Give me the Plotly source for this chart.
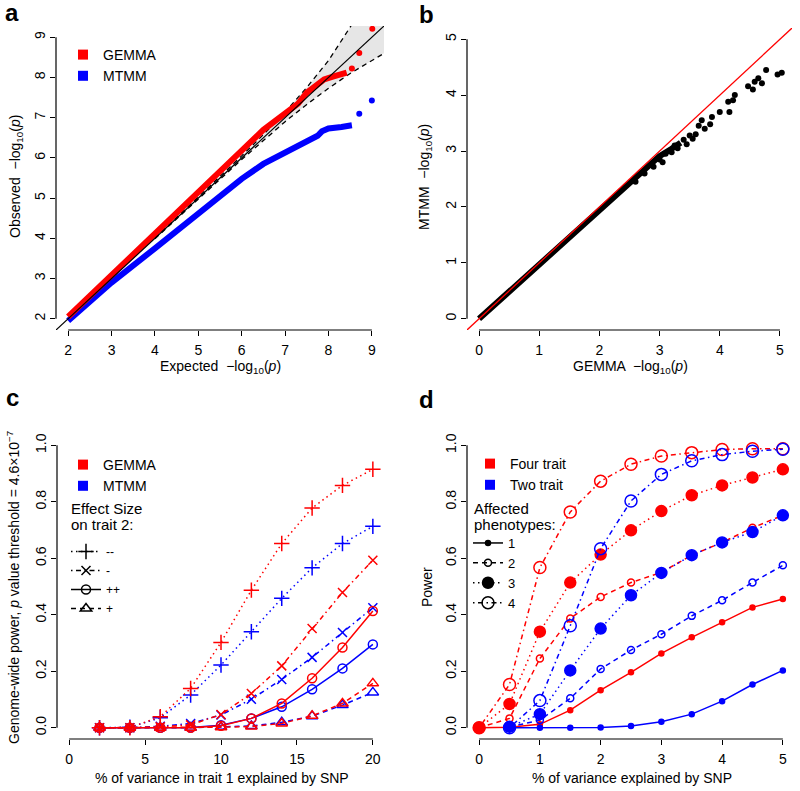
import plotly.graph_objects as go

W, H = 800, 791
FONT = "Liberation Sans, Arial, Helvetica, sans-serif"
RED = "#ff0000"
BLUE = "#0000ff"
BLACK = "#000000"

# ---------------- Panel a: QQ plot ----------------
a_gemma_exp = [2.0, 3.0, 4.0, 5.0, 5.5, 6.0, 6.5, 7.0, 7.3, 7.5, 7.7, 7.9, 8.1, 8.25, 8.42]
a_gemma_obs = [2.05, 3.07, 4.09, 5.12, 5.65, 6.18, 6.7, 7.1, 7.35, 7.62, 7.8, 7.95, 8.02, 8.05, 8.12]
a_gemma_tail_exp = [8.54, 8.71, 9.01]
a_gemma_tail_obs = [8.22, 8.61, 9.21]
a_mtmm_exp = [2.0, 2.5, 3.0, 4.0, 5.0, 5.5, 6.0, 6.5, 7.0, 7.5, 7.75, 7.85, 8.0, 8.3, 8.54]
a_mtmm_obs = [1.95, 2.45, 2.9, 3.75, 4.6, 5.05, 5.48, 5.85, 6.12, 6.42, 6.55, 6.66, 6.73, 6.77, 6.81]
a_mtmm_tail_exp = [8.71, 9.0]
a_mtmm_tail_obs = [7.10, 7.43]
a_ci_exp = [4.0, 5.0, 6.0, 6.5, 7.0, 7.5, 8.0, 8.5, 9.0, 9.28]
a_ci_upper = [4.01, 5.02, 6.05, 6.58, 7.14, 7.75, 8.42, 9.25, 10.2, 11.0]
a_ci_lower = [3.99, 4.98, 5.96, 6.43, 6.90, 7.33, 7.73, 8.10, 8.42, 8.60]
a_ticks = [2, 3, 4, 5, 6, 7, 8, 9]
a_range = [1.72, 9.28]

# ---------------- Panel b: MTMM vs GEMMA ----------------
b_dense_x = [0.0, 0.5, 1.0, 1.5, 2.0, 2.5, 2.8, 3.0, 3.2, 3.35]
b_dense_y = [0.0, 0.49, 0.98, 1.47, 1.95, 2.43, 2.71, 2.91, 3.04, 3.15]
b_pts_x = [2.6, 2.75, 2.9, 3.0, 3.05, 3.1, 3.2, 3.25, 3.3, 3.4, 3.45, 3.5, 3.55, 3.6, 3.65, 3.7,
           3.75, 3.84, 3.87, 4.0, 4.14, 4.16, 4.22, 4.25, 4.47, 4.55, 4.58, 4.64, 4.70, 4.77, 4.96, 5.03]
b_pts_y = [2.45, 2.6, 2.72, 2.85, 2.80, 2.95, 2.98, 3.1, 3.05, 3.2, 3.12, 3.28, 3.22, 3.3, 3.45, 3.55,
           3.40, 3.48, 3.61, 3.70, 3.88, 3.70, 3.91, 4.00, 4.16, 4.10, 4.24, 4.30, 4.21, 4.45, 4.37, 4.40]
b_ticks = [0, 1, 2, 3, 4, 5]
b_range = [-0.2, 5.2]

# ---------------- Panel c: power vs variance in trait 1 ----------------
c_x = [2, 4, 6, 8, 10, 12, 14, 16, 18, 20]
c_gemma_mm = [0.0, 0.0, 0.039, 0.139, 0.302, 0.487, 0.652, 0.778, 0.858, 0.915]
c_mtmm_mm = [0.0, 0.002, 0.035, 0.116, 0.222, 0.340, 0.458, 0.566, 0.652, 0.713]
c_gemma_m = [0.0, 0.0, 0.003, 0.010, 0.047, 0.121, 0.219, 0.351, 0.479, 0.593]
c_mtmm_m = [0.0, 0.0, 0.005, 0.015, 0.045, 0.101, 0.171, 0.249, 0.337, 0.425]
c_gemma_pp = [0.0, 0.0, 0.0, 0.0, 0.007, 0.033, 0.086, 0.175, 0.284, 0.413]
c_mtmm_pp = [0.0, 0.0, 0.0, 0.001, 0.009, 0.033, 0.074, 0.136, 0.210, 0.295]
c_gemma_p = [0.0, 0.0, 0.0, 0.0, 0.002, 0.004, 0.015, 0.042, 0.086, 0.157]
c_mtmm_p = [0.0, 0.0, 0.0, 0.0, 0.003, 0.006, 0.019, 0.041, 0.080, 0.125]
c_xticks = [0, 5, 10, 15, 20]
c_yticks = [0.0, 0.2, 0.4, 0.6, 0.8, 1.0]
c_ytext = ["0.0", "0.2", "0.4", "0.6", "0.8", "1.0"]
c_xrange = [-0.8, 20.8]
c_effect_labels = ["--", "-", "++", "+"]

# ---------------- Panel d: power vs variance explained ----------------
d_x4 = [0, 0.5, 1, 1.5, 2, 2.5, 3, 3.5, 4, 4.5, 5]
d_four_1 = [0.0, 0.002, 0.012, 0.062, 0.133, 0.196, 0.263, 0.320, 0.373, 0.426, 0.456]
d_four_2 = [0.0, 0.033, 0.245, 0.387, 0.463, 0.514, 0.550, 0.611, 0.656, 0.708, 0.752]
d_four_3 = [0.0, 0.084, 0.340, 0.514, 0.613, 0.699, 0.767, 0.823, 0.858, 0.886, 0.915]
d_four_4 = [0.0, 0.153, 0.567, 0.764, 0.873, 0.933, 0.962, 0.974, 0.985, 0.988, 0.988]
d_x2 = [0.5, 1, 1.5, 2, 2.5, 3, 3.5, 4, 4.5, 5]
d_two_1 = [0.0, 0.0, 0.0, 0.001, 0.006, 0.021, 0.048, 0.094, 0.153, 0.203]
d_two_2 = [0.002, 0.027, 0.104, 0.208, 0.275, 0.331, 0.396, 0.451, 0.514, 0.575]
d_two_3 = [0.003, 0.048, 0.203, 0.351, 0.469, 0.548, 0.611, 0.656, 0.693, 0.752]
d_two_4 = [0.0, 0.096, 0.361, 0.634, 0.803, 0.897, 0.945, 0.967, 0.979, 0.986]
d_xticks = [0, 1, 2, 3, 4, 5]
d_xrange = [-0.2, 5.2]
d_pheno_labels = ["1", "2", "3", "4"]

y_power_range = [-0.04, 1.04]

# ---------------- styles ----------------
DOT = "1.5px,3.5px"
DASH = "5px,4px"
DOTDASH = "1.5px,3.5px,5px,3.5px"

c_styles = [  # (gemma, mtmm, symbol, size, dash)
    (c_gemma_mm, c_mtmm_mm, "cross-thin-open", 11, DOT),
    (c_gemma_m, c_mtmm_m, "x-thin-open", 9, DOTDASH),
    (c_gemma_pp, c_mtmm_pp, "circle-open", 9, "solid"),
    (c_gemma_p, c_mtmm_p, "triangle-up-open", 10, DASH),
]
d_styles = [  # (four, two, symbol, size, dash)
    (d_four_1, d_two_1, "circle", 5, "solid"),
    (d_four_2, d_two_2, "circle-open", 7, DASH),
    (d_four_3, d_two_3, "circle", 11, DOT),
    (d_four_4, d_two_4, "circle-open", 12, DOTDASH),
]


def xdom(l, r):
    return [l / W, r / W]


def ydom(t, b):
    return [1 - b / H, 1 - t / H]


fig = go.Figure()

# ---- panel a ----
fig.add_trace(go.Scatter(x=a_ci_exp + a_ci_exp[::-1], y=a_ci_upper + a_ci_lower[::-1],
                         fill="toself", fillcolor="#e6e6e6", line=dict(width=0),
                         mode="lines", showlegend=False, xaxis="x", yaxis="y"))
fig.add_trace(go.Scatter(x=a_ci_exp, y=a_ci_upper, mode="lines",
                         line=dict(color=BLACK, width=1.3, dash="5px,4px"),
                         showlegend=False, xaxis="x", yaxis="y"))
fig.add_trace(go.Scatter(x=a_ci_exp, y=a_ci_lower, mode="lines",
                         line=dict(color=BLACK, width=1.3, dash="5px,4px"),
                         showlegend=False, xaxis="x", yaxis="y"))
fig.add_trace(go.Scatter(x=a_mtmm_exp, y=a_mtmm_obs, mode="lines",
                         line=dict(color=BLUE, width=6), showlegend=False,
                         xaxis="x", yaxis="y"))
fig.add_trace(go.Scatter(x=a_mtmm_tail_exp, y=a_mtmm_tail_obs, mode="markers",
                         marker=dict(color=BLUE, size=6), showlegend=False,
                         xaxis="x", yaxis="y"))
fig.add_trace(go.Scatter(x=a_gemma_exp, y=a_gemma_obs, mode="lines",
                         line=dict(color=RED, width=6), showlegend=False,
                         xaxis="x", yaxis="y"))
fig.add_trace(go.Scatter(x=a_gemma_tail_exp, y=a_gemma_tail_obs, mode="markers",
                         marker=dict(color=RED, size=6), showlegend=False,
                         xaxis="x", yaxis="y"))
fig.add_trace(go.Scatter(x=a_range, y=a_range, mode="lines",
                         line=dict(color=BLACK, width=1.2), showlegend=False,
                         xaxis="x", yaxis="y"))
for name, col in [("GEMMA", RED), ("MTMM", BLUE)]:
    fig.add_trace(go.Scatter(x=[None], y=[None], mode="markers", name=name,
                             marker=dict(symbol="square", color=col, size=10),
                             legend="legend", xaxis="x", yaxis="y"))

# ---- panel b ----
fig.add_trace(go.Scatter(x=b_dense_x, y=b_dense_y, mode="lines",
                         line=dict(color=BLACK, width=6), showlegend=False,
                         xaxis="x2", yaxis="y2"))
fig.add_trace(go.Scatter(x=b_pts_x, y=b_pts_y, mode="markers",
                         marker=dict(color=BLACK, size=6), showlegend=False,
                         xaxis="x2", yaxis="y2"))
fig.add_trace(go.Scatter(x=b_range, y=b_range, mode="lines",
                         line=dict(color=RED, width=1.3), showlegend=False,
                         xaxis="x2", yaxis="y2"))

# ---- panel c ----
for idx in (1, 0):
    for g, m, sym, size, dash in c_styles:
        yv = m if idx == 1 else g
        col = BLUE if idx == 1 else RED
        fig.add_trace(go.Scatter(x=c_x, y=yv, mode="lines+markers",
                                 line=dict(color=col, width=1.5, dash=dash),
                                 marker=dict(symbol=sym, size=size, color=col,
                                             line=dict(color=col, width=1.5)),
                                 showlegend=False, xaxis="x3", yaxis="y3"))
for name, col in [("GEMMA", RED), ("MTMM", BLUE)]:
    fig.add_trace(go.Scatter(x=[None], y=[None], mode="markers", name=name,
                             marker=dict(symbol="square", color=col, size=10),
                             legend="legend2", xaxis="x3", yaxis="y3"))
for lab, (g, m, sym, size, dash) in zip(c_effect_labels, c_styles):
    fig.add_trace(go.Scatter(x=[None], y=[None], mode="lines+markers", name=lab,
                             line=dict(color=BLACK, width=1.5, dash=dash),
                             marker=dict(symbol=sym, size=size, color=BLACK,
                                         line=dict(color=BLACK, width=1.5)),
                             legend="legend3", xaxis="x3", yaxis="y3"))

# ---- panel d ----
for idx in (0, 1):
    for f4, t2, sym, size, dash in d_styles:
        xv = d_x4 if idx == 0 else d_x2
        yv = f4 if idx == 0 else t2
        col = RED if idx == 0 else BLUE
        fig.add_trace(go.Scatter(x=xv, y=yv, mode="lines+markers",
                                 line=dict(color=col, width=1.5, dash=dash),
                                 marker=dict(symbol=sym, size=size, color=col,
                                             line=dict(color=col, width=1.5)),
                                 showlegend=False, xaxis="x4", yaxis="y4"))
for name, col in [("Four trait", RED), ("Two trait", BLUE)]:
    fig.add_trace(go.Scatter(x=[None], y=[None], mode="markers", name=name,
                             marker=dict(symbol="square", color=col, size=10),
                             legend="legend4", xaxis="x4", yaxis="y4"))
for lab, (f4, t2, sym, size, dash) in zip(d_pheno_labels, d_styles):
    fig.add_trace(go.Scatter(x=[None], y=[None], mode="lines+markers", name=lab,
                             line=dict(color=BLACK, width=1.5, dash=dash),
                             marker=dict(symbol=sym, size=size, color=BLACK,
                                         line=dict(color=BLACK, width=1.5)),
                             legend="legend5", xaxis="x4", yaxis="y4"))

# ---------------- axes ----------------
tickfont = dict(family=FONT, size=14, color=BLACK)


def xax(dom, rng, tv, tt=None, anchor="y"):
    return dict(domain=dom, range=rng, tickvals=tv, ticktext=tt, anchor=anchor,
                showgrid=False, zeroline=False, showline=False, ticks="outside",
                ticklen=5, tickwidth=1, tickcolor=BLACK, tickfont=tickfont,
                ticklabelstandoff=2)


def yax(dom, rng, tv, tt=None, anchor="x"):
    return dict(domain=dom, range=rng, tickvals=tv, ticktext=tt, anchor=anchor,
                showgrid=False, zeroline=False, showline=False, ticks="outside",
                ticklen=5, tickwidth=1, tickcolor=BLACK, tickfont=tickfont,
                tickangle=-90, ticklabelstandoff=-1)


layout = dict(
    width=W, height=H, margin=dict(l=0, r=0, t=0, b=0),
    paper_bgcolor="white", plot_bgcolor="white",
    font=dict(family=FONT, size=14, color=BLACK),
    xaxis=xax(xdom(56, 384), a_range, a_ticks, anchor="y"),
    yaxis=yax(ydom(26, 330), a_range, a_ticks, anchor="x"),
    xaxis2=xax(xdom(467, 792), b_range, b_ticks, anchor="y2"),
    yaxis2=yax(ydom(28, 330), b_range, b_ticks, anchor="x2"),
    xaxis3=xax(xdom(57, 385), c_xrange, c_xticks, anchor="y3"),
    yaxis3=yax(ydom(434, 739), y_power_range, c_yticks, c_ytext, anchor="x3"),
    xaxis4=xax(xdom(467, 795), d_xrange, d_xticks, anchor="y4"),
    yaxis4=yax(ydom(434, 739), y_power_range, c_yticks, c_ytext, anchor="x4"),
)


def leg(px, py, size=14):
    return dict(x=px / W, y=1 - py / H, xanchor="left", yanchor="top",
                bgcolor="rgba(255,255,255,0)", borderwidth=0,
                font=dict(family=FONT, size=size, color=BLACK),
                itemclick=False, itemdoubleclick=False)


layout["legend"] = leg(63, 39)
layout["legend2"] = leg(63, 449)
layout["legend3"] = leg(66, 537, 12)
layout["legend4"] = leg(470, 448)
layout["legend5"] = leg(468, 528, 13)

fig.update_layout(**layout)

# axis lines spanning first..last tick (R style)
axes_info = [("x", "y", a_ticks, a_ticks), ("x2", "y2", b_ticks, b_ticks),
             ("x3", "y3", c_xticks, c_yticks), ("x4", "y4", d_xticks, c_yticks)]
for xr, yr, xt, yt in axes_info:
    fig.add_shape(type="line", xref=xr, yref=yr + " domain", x0=xt[0], x1=xt[-1], y0=0, y1=0,
                  line=dict(color=BLACK, width=1.2))
    fig.add_shape(type="line", xref=xr + " domain", yref=yr, x0=0, x1=0, y0=yt[0], y1=yt[-1],
                  line=dict(color=BLACK, width=1.2))


# ---------------- text annotations ----------------
def ann(text, px, py, size=14, angle=0, bold=False, xanchor="center"):
    if bold:
        text = "<b>" + text + "</b>"
    fig.add_annotation(text=text, x=px / W, y=1 - py / H, xref="paper", yref="paper",
                       showarrow=False, textangle=angle, xanchor=xanchor, yanchor="middle",
                       font=dict(family=FONT, size=size, color=BLACK))


LOG = "\u2212log<sub>10</sub>(<i>p</i>)"
ann("Expected  " + LOG, 220, 367)
ann("Observed  " + LOG, 16, 177, angle=-90)
ann("GEMMA  " + LOG, 630, 367)
ann("MTMM  " + LOG, 425, 177, angle=-90)
ann("% of variance in trait 1 explained by SNP", 222, 778)
ann("Genome-wide power, <i>p</i> value threshold = 4.6\u00d710<sup>\u22127</sup>", 13, 588, angle=-90)
ann("% of variance explained by SNP", 632, 778)
ann("Power", 427, 587, angle=-90)
ann("Effect Size", 69, 508, size=15, xanchor="left")
ann("on trait 2:", 69, 524, size=15, xanchor="left")
ann("Affected", 472, 508, size=15, xanchor="left")
ann("phenotypes:", 472, 524, size=15, xanchor="left")
ann("a", 12, 12, size=24, bold=True)
ann("b", 427, 14, size=24, bold=True)
ann("c", 12, 398, size=24, bold=True)
ann("d", 427, 400, size=24, bold=True)

fig.write_html("out.html", config={"displayModeBar": False},
               post_script="document.body.style.margin='0';document.body.style.overflow='hidden';")
